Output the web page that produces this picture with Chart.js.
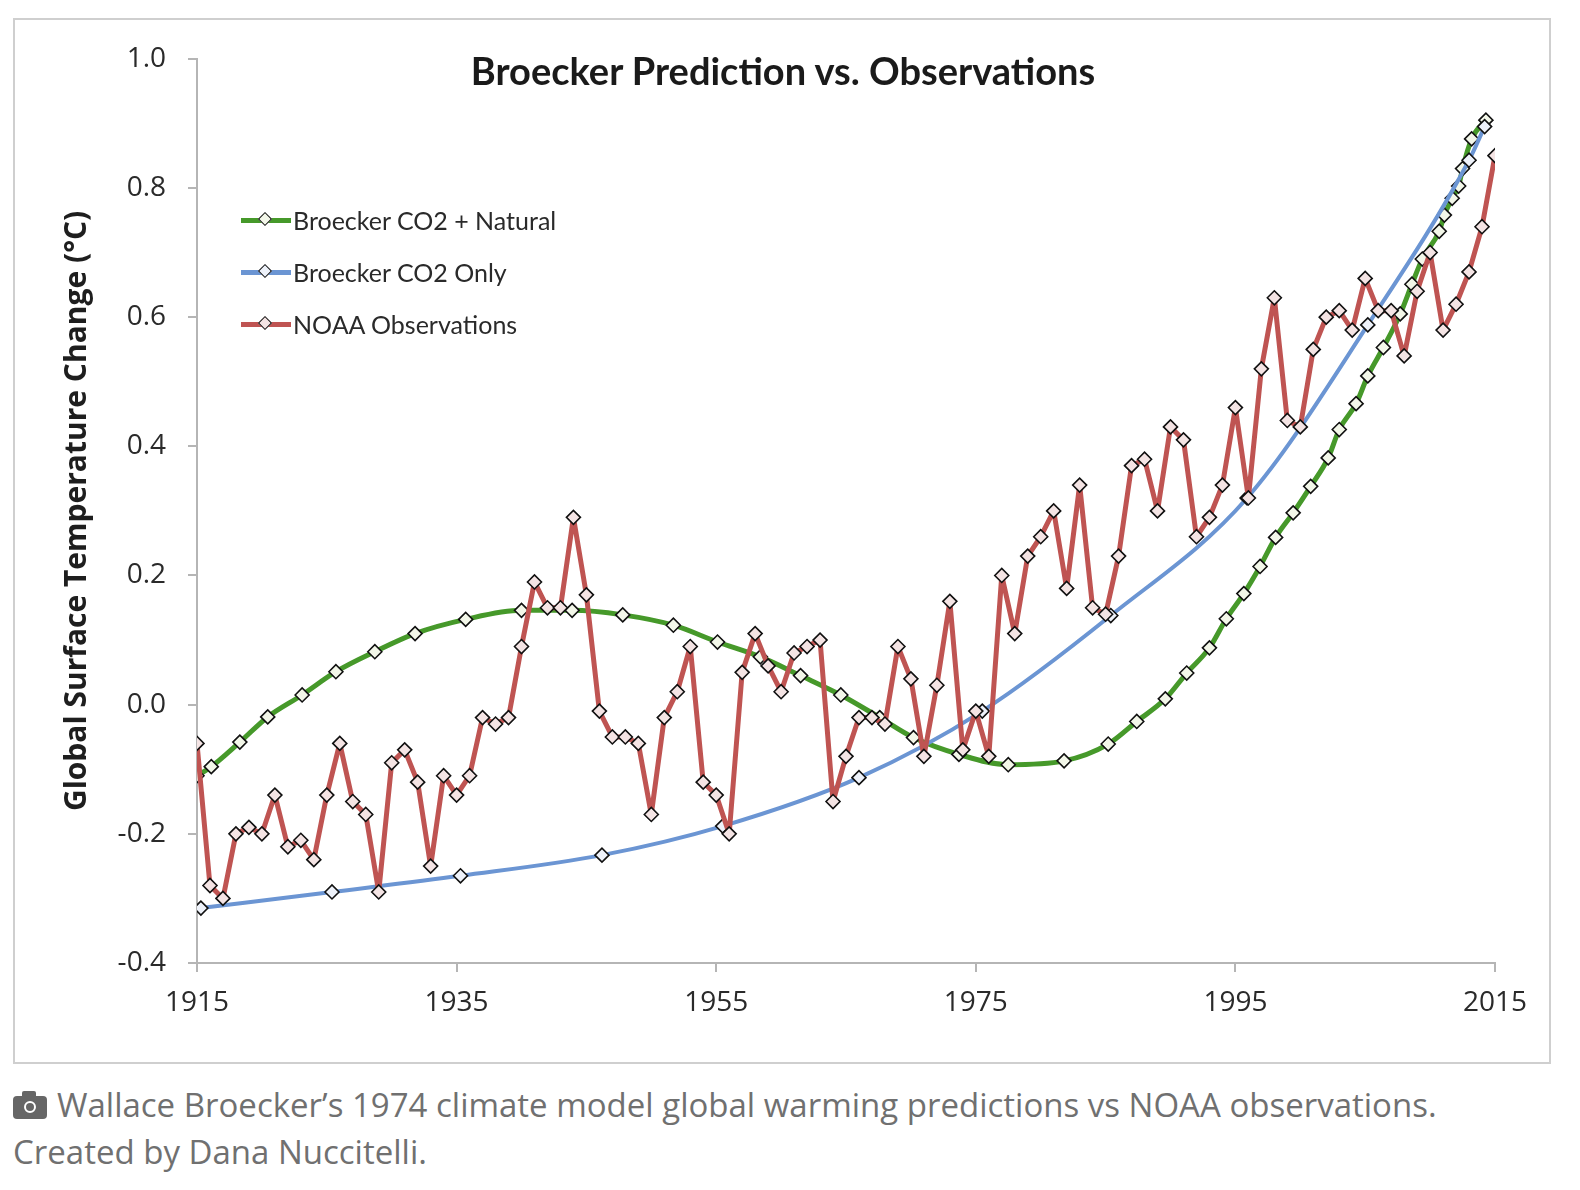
<!DOCTYPE html>
<html>
<head>
<meta charset="utf-8">
<script src="https://cdn.jsdelivr.net/npm/chart.js@4.4.1/dist/chart.umd.min.js"></script>
<style>
  html, body { margin: 0; padding: 0; background: #fff; }
  body { width: 1580px; height: 1190px; position: relative; overflow: hidden; }
  #frame { position: absolute; left: 13px; top: 18px; width: 1534px; height: 1042px; border: 2px solid #cfcfcf; background: #fff; }
  #wrap { position: absolute; left: 0px; top: 0px; width: 1532px; height: 1040px; }
  #title { position: absolute; left: 0; top: 27px; width: 1536px; text-align: center; font-family: Lato, "Open Sans", sans-serif; font-weight: bold; font-size: 38px; line-height: 46px; color: #1a1a1a; }
  .leg { position: absolute; left: 226px; height: 30px; font-family: Lato, "Open Sans", sans-serif; font-size: 25px; color: #2a2a2a; }
  .leg .ln { position: absolute; left: 0; top: 13px; width: 50px; height: 5px; }
  .leg .dm { position: absolute; left: 19px; top: 9px; width: 8px; height: 8px; border: 1.5px solid #111; transform: rotate(45deg); }
  .leg .tx { position: absolute; left: 52px; top: 0px; white-space: nowrap; line-height: 30px; }
  #cap { position: absolute; left: 13px; top: 1081px; font-family: "Open Sans", sans-serif; font-size: 33px; line-height: 47px; color: #707070; white-space: nowrap; }
  .cam { display: inline-block; position: relative; width: 34px; height: 23px; background: #666; border-radius: 4px; margin-right: 10px; vertical-align: -2px; }
  .cam::before { content: ""; position: absolute; left: 9px; top: -5px; width: 14px; height: 6px; background: #666; border-radius: 2px 2px 0 0; }
  .cam::after { content: ""; position: absolute; left: 11px; top: 5px; width: 8px; height: 8px; border: 2px solid #fff; border-radius: 50%; }
</style>
</head>
<body>
<div id="frame">
  <div id="wrap"><canvas id="c"></canvas></div>
  <div id="title">Broecker Prediction vs. Observations</div>
  <div class="leg" style="top:185px"><div class="ln" style="background:#46992a"></div><div class="dm" style="background:#f3f7e9"></div><div class="tx">Broecker CO2 + Natural</div></div>
  <div class="leg" style="top:237px"><div class="ln" style="background:#6b95d3"></div><div class="dm" style="background:#eef2fa"></div><div class="tx">Broecker CO2 Only</div></div>
  <div class="leg" style="top:289px"><div class="ln" style="background:#bf5452"></div><div class="dm" style="background:#f4e4e4"></div><div class="tx">NOAA Observations</div></div>
</div>
<div id="cap"><span class="cam"></span>Wallace Broecker’s 1974 climate model global warming predictions vs NOAA observations.<br>Created by Dana Nuccitelli.</div>

<script>
// ---- data ----
const noaaYears = [1915,1916,1917,1918,1919,1920,1921,1922,1923,1924,1925,1926,1927,1928,1929,1930,1931,1932,1933,1934,1935,1936,1937,1938,1939,1940,1941,1942,1943,1944,1945,1946,1947,1948,1949,1950,1951,1952,1953,1954,1955,1956,1957,1958,1959,1960,1961,1962,1963,1964,1965,1966,1967,1968,1969,1970,1971,1972,1973,1974,1975,1976,1977,1978,1979,1980,1981,1982,1983,1984,1985,1986,1987,1988,1989,1990,1991,1992,1993,1994,1995,1996,1997,1998,1999,2000,2001,2002,2003,2004,2005,2006,2007,2008,2009,2010,2011,2012,2013,2014,2015];
const noaaValues = [-0.06,-0.28,-0.30,-0.20,-0.19,-0.20,-0.14,-0.22,-0.21,-0.24,-0.14,-0.06,-0.15,-0.17,-0.29,-0.09,-0.07,-0.12,-0.25,-0.11,-0.14,-0.11,-0.02,-0.03,-0.02,0.09,0.19,0.15,0.15,0.29,0.17,-0.01,-0.05,-0.05,-0.06,-0.17,-0.02,0.02,0.09,-0.12,-0.14,-0.20,0.05,0.11,0.06,0.02,0.08,0.09,0.10,-0.15,-0.08,-0.02,-0.02,-0.03,0.09,0.04,-0.08,0.03,0.16,-0.07,-0.01,-0.08,0.20,0.11,0.23,0.26,0.30,0.18,0.34,0.15,0.14,0.23,0.37,0.38,0.30,0.43,0.41,0.26,0.29,0.34,0.46,0.32,0.52,0.63,0.44,0.43,0.55,0.60,0.61,0.58,0.66,0.61,0.61,0.54,0.64,0.70,0.58,0.62,0.67,0.74,0.85];

const naturalYears = [1915.0,1916.1,1918.3,1920.45,1923.1,1925.7,1928.7,1931.8,1935.7,1940.0,1943.9,1947.8,1951.7,1955.1,1958.4,1961.5,1964.6,1967.6,1970.2,1973.7,1977.5,1981.8,1985.2,1987.4,1989.6,1991.25,1993.0,1994.3,1995.65,1996.9,1998.1,1999.45,2000.8,2002.15,2003.0,2004.3,2005.2,2006.4,2007.7,2008.6,2009.4,2010.7,2011.1,2011.7,2012.2,2012.5,2013.2,2014.3];
const naturalValues = [-0.11,-0.096,-0.058,-0.019,0.015,0.051,0.082,0.110,0.132,0.146,0.146,0.139,0.123,0.097,0.074,0.045,0.015,-0.020,-0.051,-0.077,-0.093,-0.087,-0.061,-0.026,0.009,0.049,0.088,0.133,0.172,0.214,0.259,0.297,0.338,0.382,0.426,0.466,0.509,0.553,0.605,0.651,0.690,0.733,0.758,0.784,0.803,0.830,0.876,0.905];

const co2Years = [1915.3,1925.4,1935.3,1946.2,1955.5,1966.0,1975.5,1985.4,1995.9,2005.2,2013.0,2014.2];
const co2Values = [-0.315,-0.290,-0.265,-0.233,-0.188,-0.113,-0.010,0.138,0.320,0.588,0.843,0.895];

const xTickYears = [1915,1935,1955,1975,1995,2015];
const yTickValues = [-0.4,-0.2,0.0,0.2,0.4,0.6,0.8,1.0];

const seriesNames = ['Broecker CO2 + Natural','Broecker CO2 Only','NOAA Observations'];

function pts(xs, ys) { return xs.map((x, i) => ({x: x, y: ys[i]})); }

const axisColor = '#b5b5b5';
const ctx = document.getElementById('c');
new Chart(ctx, {
  type: 'scatter',
  data: {
    datasets: [
      {
        label: seriesNames[2], data: pts(noaaYears, noaaValues), showLine: true, order: 1,
        borderColor: '#bf5452', borderWidth: 5, tension: 0, borderJoinStyle: 'round', borderCapStyle: 'round',
        pointStyle: 'rectRot', pointRadius: 7, pointBorderWidth: 1.6,
        pointBorderColor: '#111', pointBackgroundColor: '#f4e4e4'
      },
      {
        label: seriesNames[1], data: pts(co2Years, co2Values), showLine: true, order: 2,
        borderColor: '#6b95d3', borderWidth: 4, cubicInterpolationMode: 'monotone',
        pointStyle: 'rectRot', pointRadius: 7, pointBorderWidth: 1.6,
        pointBorderColor: '#111', pointBackgroundColor: '#eef2fa'
      },
      {
        label: seriesNames[0], data: pts(naturalYears, naturalValues), showLine: true, order: 3,
        borderColor: '#46992a', borderWidth: 5, cubicInterpolationMode: 'monotone',
        pointStyle: 'rectRot', pointRadius: 7, pointBorderWidth: 1.6,
        pointBorderColor: '#111', pointBackgroundColor: '#f3f7e9'
      }
    ]
  },
  options: {
    responsive: true, maintainAspectRatio: false, animation: false,
    layout: { padding: { left: 0, top: 31, right: 52, bottom: 0 } },
    plugins: { legend: { display: false }, tooltip: { enabled: false }, title: { display: false } },
    scales: {
      x: {
        type: 'linear', min: xTickYears[0], max: xTickYears[xTickYears.length - 1],
        afterBuildTicks: s => { s.ticks = xTickYears.map(v => ({value: v})); },
        afterFit: s => { s.height = 97; },
        ticks: { callback: v => String(v), font: { family: 'Open Sans', size: 28 }, color: '#2a2a2a', padding: 14, maxRotation: 0 },
        grid: { drawOnChartArea: false, drawTicks: true, tickLength: 9, color: axisColor, lineWidth: 2 },
        border: { display: true, color: axisColor, width: 2 }
      },
      y: {
        min: yTickValues[0], max: yTickValues[yTickValues.length - 1],
        afterBuildTicks: s => { s.ticks = yTickValues.map(v => ({value: v})); },
        afterFit: s => { s.width = 182; },
        ticks: { callback: v => Number(v).toFixed(1), font: { family: 'Open Sans', size: 28 }, color: '#2a2a2a', padding: 22 },
        grid: { drawOnChartArea: false, drawTicks: true, tickLength: 9, color: axisColor, lineWidth: 2 },
        border: { display: true, color: axisColor, width: 2 },
        title: { display: true, text: 'Global Surface Temperature Change (°C)', font: { family: 'Open Sans', size: 30, weight: 'bold' }, color: '#1e1e1e', padding: { top: 44, bottom: 0 } }
      }
    }
  }
});
</script>
</body>
</html>
